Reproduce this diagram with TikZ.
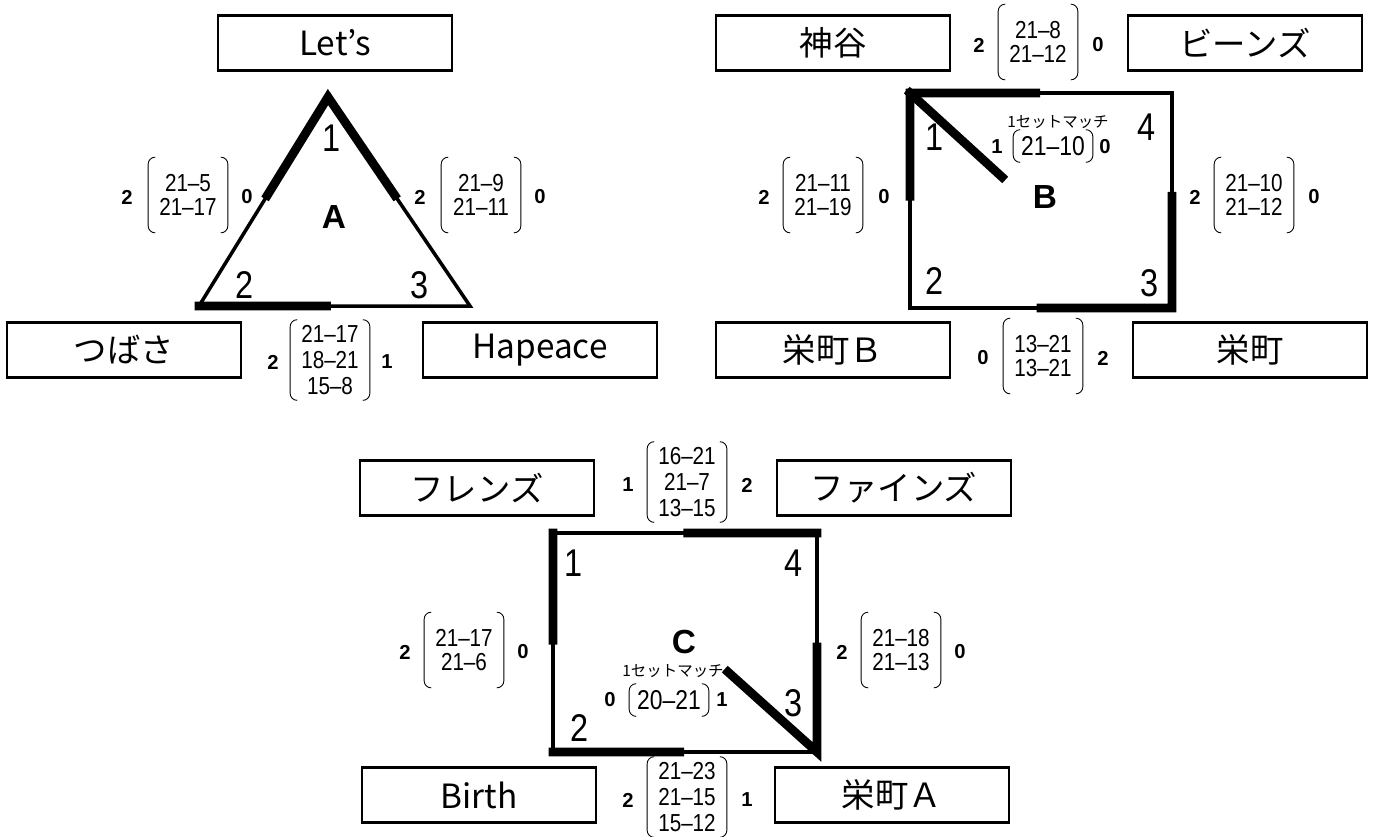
\documentclass[tikz,border=0pt]{standalone}
\usepackage{fontspec}
\setmainfont{Liberation Sans}
\newfontfamily\jpfont{Noto Sans CJK JP}
\newfontfamily\scorefont[FakeStretch=0.84]{Liberation Sans}
\usetikzlibrary{calc}
\tikzset{
    teambox/.style={rectangle, draw=black, line width=1.6pt, minimum width=4.68cm, minimum height=1.1cm, inner sep=0pt, font=\jpfont\fontsize{19}{21}\selectfont},
    edgeline/.style={draw=black, line width=2pt, line join=miter},
    winline/.style={draw=black, line width=5pt, line cap=rect, line join=miter},
    cornerno/.style={inner sep=0pt, font=\scorefont\fontsize{22}{22}\selectfont},
    grouplbl/.style={inner sep=0pt, font=\bfseries\fontsize{19}{19}\selectfont},
    setno/.style={inner sep=0pt, font=\bfseries\fontsize{11.5}{11.5}\selectfont},
    matchnote/.style={inner sep=0pt, font=\jpfont\fontsize{8.8}{9}\selectfont},
    scores/.style={align=center, inner sep=0pt, minimum width=1.58cm, minimum height=#1, font=\scorefont\fontsize{14}{13.2}\selectfont,
        append after command={\pgfextra{\draw[line width=0.5pt, rounded corners=4pt]
            ([xshift=4pt]\tikzlastnode.north west) -- (\tikzlastnode.north west) -- (\tikzlastnode.south west) -- ([xshift=4pt]\tikzlastnode.south west)
            ([xshift=-4pt]\tikzlastnode.north east) -- (\tikzlastnode.north east) -- (\tikzlastnode.south east) -- ([xshift=-4pt]\tikzlastnode.south east);}}},
    scores/.default=1.5cm,
    scores3/.style={scores=1.6cm, font=\scorefont\fontsize{14}{14.8}\selectfont},
    scores1/.style={scores=0.64cm, font=\scorefont\fontsize{15.5}{15.5}\selectfont}
}

\begin{document}
\begin{tikzpicture}[x=0.02cm, y=-0.02cm]
\useasboundingbox (0,0) rectangle (1373,836);

% group A
\coordinate (A1) at (328,97);
\coordinate (A2) at (199,306);
\coordinate (A3) at (470,306);
\draw[edgeline] (A1) -- (A2) -- (A3) -- cycle;
\draw[winline] ($(A1)!0.47!(A2)$) -- (A1) -- ($(A1)!0.47!(A3)$);
\draw[winline] (A2) -- ($(A2)!0.47!(A3)$);

\node[teambox] (lets) at (335,43) {Let’s};
\node[teambox] (tsubasa) at (124,350) {つばさ};
\node[teambox] (hapeace) at (540,350) {Hapeace};

\node[cornerno] (a1) at (332,138) {1};
\node[cornerno] (a2) at (245,285) {2};
\node[cornerno] (a3) at (420,285) {3};
\node[grouplbl] (agroup) at (334,217) {A};

\node[scores] (a12) at (188,195) {21–5\\21–17};
\node[setno] (a12l) at (127,197) {2};
\node[setno] (a12r) at (247,197) {0};
\node[scores] (a13) at (481,195) {21–9\\21–11};
\node[setno] (a13l) at (420,197) {2};
\node[setno] (a13r) at (540,197) {0};
\node[scores3] (a23) at (330,360) {21–17\\18–21\\15–8};
\node[setno] (a23l) at (273,362) {2};
\node[setno] (a23r) at (387,362) {1};

% group B
\coordinate (B1) at (910,93);
\coordinate (B2) at (910,308);
\coordinate (B3) at (1172,308);
\coordinate (B4) at (1172,93);
\coordinate (Bd) at (1002,177);
\draw[edgeline] (B1) -- (B2) -- (B3) -- (B4) -- cycle;
\draw[winline] ($(B1)!0.48!(B4)$) -- (B1) -- ($(B1)!0.48!(B2)$);
\draw[winline] (B1) -- (Bd);
\draw[winline] ($(B4)!0.48!(B3)$) -- (B3) -- ($(B2)!0.5!(B3)$);

\node[teambox] (kamiya) at (833,43) {神谷};
\node[teambox] (beans) at (1245,43) {ビーンズ};
\node[teambox] (sakaeB) at (833,350) {栄町Ｂ};
\node[teambox] (sakae) at (1250,350) {栄町};

\node[cornerno] (b1) at (935,137) {1};
\node[cornerno] (b4) at (1147,127) {4};
\node[cornerno] (b2) at (935,281) {2};
\node[cornerno] (b3) at (1150,283) {3};
\node[grouplbl] (bgroup) at (1045,197) {B};

\node[scores] (b14) at (1038,42) {21–8\\21–12};
\node[setno] (b14l) at (979,45) {2};
\node[setno] (b14r) at (1098,45) {0};
\node[scores] (b12) at (823,195) {21–11\\21–19};
\node[setno] (b12l) at (764,197) {2};
\node[setno] (b12r) at (884,197) {0};
\node[scores] (b43) at (1254,195) {21–10\\21–12};
\node[setno] (b43l) at (1195,197) {2};
\node[setno] (b43r) at (1314,197) {0};
\node[scores] (b23) at (1043,356) {13–21\\13–21};
\node[setno] (b23l) at (983,358) {0};
\node[setno] (b23r) at (1103,358) {2};
\node[matchnote] (b13note) at (1058,122) {1セットマッチ};
\node[scores1] (b13) at (1053,146) {21–10};
\node[setno] (b13l) at (997,147) {1};
\node[setno] (b13r) at (1105,147) {0};

% group C
\coordinate (C1) at (553,533);
\coordinate (C2) at (553,752);
\coordinate (C3) at (817,752);
\coordinate (C4) at (817,533);
\coordinate (Cd) at (728,672);
\draw[edgeline] (C1) -- (C2) -- (C3) -- (C4) -- cycle;
\draw[winline] (C1) -- ($(C1)!0.49!(C2)$);
\draw[winline] ($(C1)!0.51!(C4)$) -- (C4);
\draw[winline] ($(C4)!0.52!(C3)$) -- (C3) -- (Cd);
\draw[winline] (C2) -- ($(C2)!0.48!(C3)$);

\node[teambox] (friends) at (477,488) {フレンズ};
\node[teambox] (fines) at (894,488) {ファインズ};
\node[teambox] (birth) at (479,795) {Birth};
\node[teambox] (sakaeA) at (892,795) {栄町Ａ};

\node[cornerno] (c1) at (574,563) {1};
\node[cornerno] (c4) at (794,563) {4};
\node[cornerno] (c2) at (580,728) {2};
\node[cornerno] (c3) at (794,703) {3};
\node[grouplbl] (cgroup) at (684,642) {C};

\node[scores3] (c14) at (687,482) {16–21\\21–7\\13–15};
\node[setno] (c14l) at (628,485) {1};
\node[setno] (c14r) at (747,485) {2};
\node[scores] (c12) at (464,650) {21–17\\21–6};
\node[setno] (c12l) at (405,652) {2};
\node[setno] (c12r) at (523,652) {0};
\node[scores] (c43) at (901,650) {21–18\\21–13};
\node[setno] (c43l) at (842,652) {2};
\node[setno] (c43r) at (960,652) {0};
\node[scores3] (c23) at (687,797) {21–23\\21–15\\15–12};
\node[setno] (c23l) at (628,800) {2};
\node[setno] (c23r) at (747,800) {1};
\node[matchnote] (c13note) at (673,671) {1セットマッチ};
\node[scores1] (c13) at (669,700) {20–21};
\node[setno] (c13l) at (610,700) {0};
\node[setno] (c13r) at (722,700) {1};

\end{tikzpicture}
\end{document}
